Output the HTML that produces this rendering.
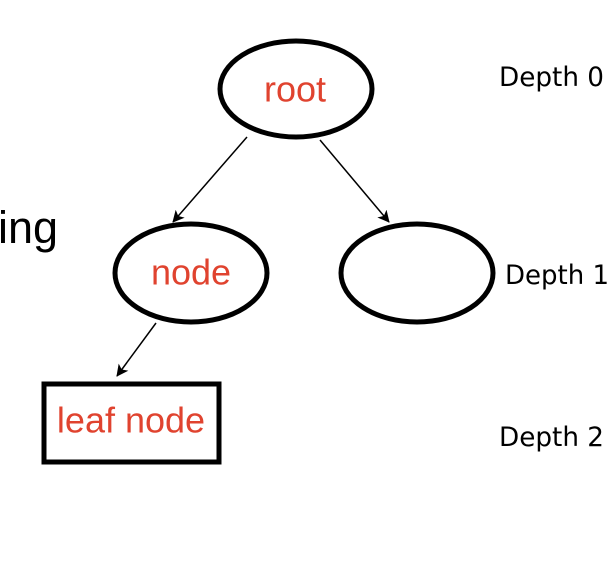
<!DOCTYPE html>
<html><head><meta charset="utf-8"><style>html,body{margin:0;padding:0;background:#fff;width:616px;height:576px;overflow:hidden}</style></head>
<body>
<svg width="616" height="576" viewBox="0 0 616 576" xmlns="http://www.w3.org/2000/svg">
<defs><marker id="a" markerWidth="12" markerHeight="12" refX="11" refY="6" orient="auto" markerUnits="userSpaceOnUse"><path d="M0,0 L12,6 L0,12 L3,6 Z" fill="#000"/></marker></defs>
<text x="-2" y="243" font-family="Liberation Sans, sans-serif" font-size="45" fill="#000">ing</text>
<ellipse cx="296" cy="89" rx="76" ry="48" fill="none" stroke="#000" stroke-width="5"/>
<text x="295" y="92" text-anchor="middle" dominant-baseline="middle" font-family="Liberation Sans, sans-serif" font-size="36" fill="#e0432f">root</text>
<ellipse cx="191" cy="273" rx="76" ry="49" fill="none" stroke="#000" stroke-width="5"/>
<text x="191" y="275" text-anchor="middle" dominant-baseline="middle" font-family="Liberation Sans, sans-serif" font-size="36" fill="#e0432f">node</text>
<ellipse cx="417" cy="273" rx="76" ry="49" fill="none" stroke="#000" stroke-width="5"/>
<rect x="44" y="384" width="175" height="78" fill="none" stroke="#000" stroke-width="5"/>
<text x="131" y="423" text-anchor="middle" dominant-baseline="middle" font-family="Liberation Sans, sans-serif" font-size="36" fill="#e0432f">leaf node</text>
<line x1="247" y1="137" x2="173" y2="222" stroke="#000" stroke-width="1.5" marker-end="url(#a)"/>
<line x1="320" y1="140" x2="389" y2="222" stroke="#000" stroke-width="1.5" marker-end="url(#a)"/>
<line x1="156" y1="323" x2="117" y2="376" stroke="#000" stroke-width="1.5" marker-end="url(#a)"/>
<text x="499" y="86" font-family="DejaVu Sans, sans-serif" font-size="27" textLength="105" lengthAdjust="spacingAndGlyphs" fill="#000">Depth 0</text>
<text x="505" y="284" font-family="DejaVu Sans, sans-serif" font-size="27" textLength="104" lengthAdjust="spacingAndGlyphs" fill="#000">Depth 1</text>
<text x="499" y="446" font-family="DejaVu Sans, sans-serif" font-size="27" textLength="105" lengthAdjust="spacingAndGlyphs" fill="#000">Depth 2</text>
</svg>
</body></html>
